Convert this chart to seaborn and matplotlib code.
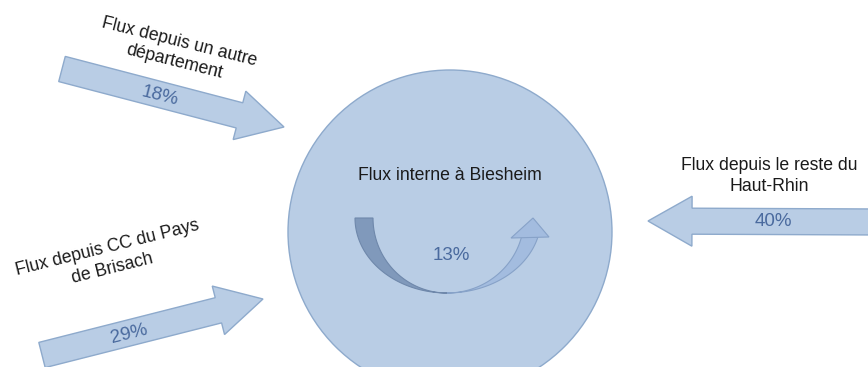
import numpy as np
import seaborn as sns
import matplotlib.pyplot as plt
from matplotlib.patches import Circle, FancyArrow, Polygon

sns.set_theme(style="white")
plt.rcParams['font.family'] = ['Liberation Sans', 'DejaVu Sans']

# flows towards Biesheim
flow_labels = ["Flux depuis un autre\ndépartement",
               "Flux depuis CC du Pays\nde Brisach",
               "Flux depuis le reste du\nHaut-Rhin",
               "Flux interne à Biesheim"]
flow_shares = [18, 29, 40, 13]

fill = "#b9cde5"
edge = "#8eaacc"
pct_color = "#4a6a9e"
txt_color = "#1a1a1a"

fig = plt.figure(figsize=(8.68, 3.67), dpi=100)
ax = fig.add_axes([0, 0, 1, 1])
ax.set_xlim(0, 868)
ax.set_ylim(367, 0)
ax.set_aspect("equal")
ax.axis("off")

# big circle
ax.add_patch(Circle((450, 232), 162, facecolor=fill, edgecolor=edge, lw=1))

# straight arrows: (tail x, tail y, tip x, tip y)
arrows = [(62, 69, 284, 127), (42, 355, 263, 299), (880, 222, 648, 221)]
for (x0, y0, x1, y1) in arrows:
    hl = 46 if x1 > x0 else 44
    ax.add_patch(FancyArrow(x0, y0, x1 - x0, y1 - y0, width=26, head_width=50,
                            head_length=hl, length_includes_head=True,
                            facecolor=fill, edgecolor=edge, lw=1))

# curved internal arrow
cx, cy = 447, 218
t = np.linspace(0, np.pi / 2, 60)
outer_l = np.c_[cx - 92 * np.cos(t), cy + 75 * np.sin(t)]
inner_l = np.c_[cx - 74 * np.cos(t), cy + 75 * np.sin(t)]
ax.add_patch(Polygon(np.r_[outer_l, inner_l[::-1]], closed=True,
                     facecolor="#8099bb", edgecolor="#6f88ab", lw=0.8))
t2 = np.linspace(np.arcsin(19 / 75), np.pi / 2, 60)
outer_r = np.c_[cx + 94 * np.cos(t2), cy + 75 * np.sin(t2)]
inner_r = np.c_[cx + 77 * np.cos(t2), cy + 75 * np.sin(t2)]
ax.add_patch(Polygon(np.r_[outer_r, inner_r[::-1]], closed=True,
                     facecolor="#a3bcdf", edgecolor="#87a2c8", lw=0.8))
ax.add_patch(Polygon([(511, 238), (549, 237), (533, 218)], closed=True,
                     facecolor="#a3bcdf", edgecolor="#87a2c8", lw=0.8))

# texts
fs = 12.7
pfs = 13.5
ls = 1.3
ax.text(177, 52, flow_labels[0], rotation=-14, ha="center", va="center",
        fontsize=fs, color=txt_color, linespacing=ls)
ax.text(160, 96, f"{flow_shares[0]}%", rotation=-14, ha="center", va="center",
        fontsize=pfs, color=pct_color)
ax.text(110, 258, flow_labels[1], rotation=14, ha="center", va="center",
        fontsize=fs, color=txt_color, linespacing=ls)
ax.text(129, 334, f"{flow_shares[1]}%", rotation=14, ha="center", va="center",
        fontsize=pfs, color=pct_color)
ax.text(769, 176, flow_labels[2], ha="center", va="center",
        fontsize=fs, color=txt_color, linespacing=ls)
ax.text(773, 222, f"{flow_shares[2]}%", ha="center", va="center",
        fontsize=pfs, color=pct_color)
ax.text(450, 175, flow_labels[3], ha="center", va="center",
        fontsize=fs, color=txt_color)
ax.text(451, 255, f"{flow_shares[3]}%", ha="center", va="center",
        fontsize=pfs, color=pct_color)

fig.savefig("out.png", dpi=100, facecolor="white")
